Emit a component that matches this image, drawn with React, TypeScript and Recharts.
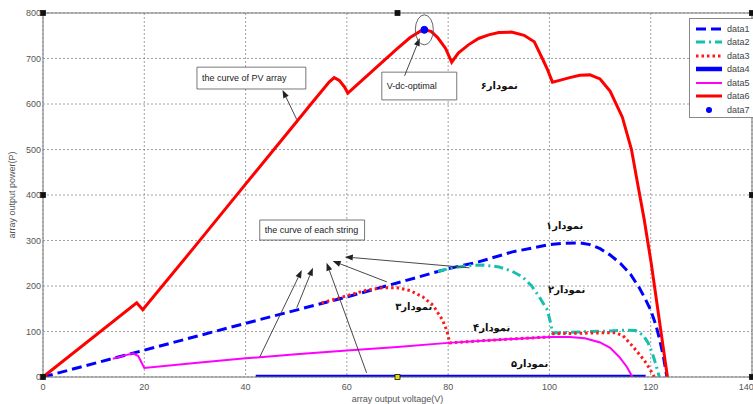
import React from 'react';
import {
  ComposedChart, Line, XAxis, YAxis, CartesianGrid, Legend,
  ReferenceLine, ReferenceArea, ReferenceDot,
} from 'recharts';

type Pt = [number, number];

const X_TICKS = [0, 20, 40, 60, 80, 100, 120, 140];
const Y_TICKS = [0, 100, 200, 300, 400, 500, 600, 700, 800];

// string 1 (blue dashed)
const data1: Pt[] = [
  [0, 0], [20, 59], [40, 118], [60, 176], [80, 238], [86, 253], [92.7, 275], [100, 291],
  [103, 294], [106, 295], [108, 291], [110, 282], [112, 268], [114, 250], [116, 226],
  [117.8, 195], [119, 170], [120, 147], [121, 115], [121.7, 85], [122.5, 45], [123.2, 0],
];
// string 2 (cyan dash-dot)
const data2: Pt[] = [
  [78, 232], [80, 238], [84, 245], [87, 246], [90, 242], [92.5, 233], [94.7, 220], [96.5, 200],
  [98, 176], [99.6, 147], [100.2, 120], [100.6, 97], [104, 98], [108, 100], [112, 101],
  [115, 103], [117, 102], [118.5, 92], [119.5, 75], [120.3, 53], [121, 28], [121.7, 0],
];
// string 3 (red dotted)
const data3: Pt[] = [
  [55, 163], [58, 172], [61, 182], [64, 191], [67, 196], [70, 196], [72.5, 190], [75, 176],
  [77, 158], [78.9, 125], [79.8, 100], [80.3, 75], [90, 82], [100, 88], [100.5, 95],
  [105, 96], [110, 97], [113, 97], [114.5, 91], [116.4, 68], [118.7, 37], [119.7, 20], [120.7, 0],
];
// thick blue at zero
const data4: Pt[] = [[42, 0], [119, 0]];
// magenta
const data5: Pt[] = [
  [13.8, 40], [16, 47], [17.8, 52], [18.8, 46], [19.4, 33], [20, 20], [30, 31], [40, 41],
  [50, 50], [60, 58], [70, 66], [80, 75], [90, 82], [100, 88], [104, 88], [107, 85],
  [110, 76], [112, 64], [113.8, 44], [115.3, 22], [116.4, 0],
];
// PV array (red solid)
const data6: Pt[] = [
  [0, 0], [18.5, 163], [19.7, 148], [30, 287], [40, 424], [50, 560], [53, 601], [55, 628],
  [56.5, 648], [57.5, 658], [58.5, 652], [59.5, 638], [60.2, 624], [62, 642], [66, 682],
  [70, 722], [72.5, 746], [74.5, 760], [75.5, 763], [76.7, 759], [78, 745], [79.5, 722],
  [80.7, 692], [82, 712], [84, 730], [86, 744], [88, 752], [90, 757], [92.5, 758], [95, 751],
  [97, 737], [98.6, 700], [99.6, 676], [100.6, 648], [102, 652], [104, 658], [106, 663],
  [108, 664], [110, 655], [112, 628], [114.4, 571], [116.2, 500], [117.5, 420],
  [118.7, 347], [120.1, 250], [121.7, 125], [123.3, 0],
];
// V-dc-optimal point
const data7: Pt[] = [[75.3, 763]];

const SERIES_NAMES = ['data1', 'data2', 'data3', 'data4', 'data5', 'data6', 'data7'];

const STRING_LABELS = ['نمودار۱', 'نمودار۲', 'نمودار۳', 'نمودار۴', 'نمودار۵', 'نمودار۶'];
const STRING_LABEL_POS: Pt[] = [[103, 334], [103.4, 193], [73.2, 154], [88.6, 108], [96.1, 29], [90.1, 640]];

// arrows: [tail, tip]
const STRING_ARROWS: [Pt, Pt][] = [
  [[42.8, 44], [51.1, 235]],
  [[50.1, 152], [53.3, 240]],
  [[63.9, 9], [56, 251]],
  [[67.9, 209], [57.2, 255]],
  [[84.2, 240], [59.6, 264]],
];
const PV_ARROW: [Pt, Pt] = [[50.1, 566], [47.3, 631]];
const OPT_ARROW: [Pt, Pt] = [[71.4, 662], [74.4, 745]];

const HANDLES: Pt[] = [[0, 800], [70, 800], [140, 800], [0, 400], [140, 400], [0, 0], [70, 0], [140, 0]];

const toPts = (arr: Pt[]) => arr.map(([x, y]) => ({ x, y }));

const styles: Record<string, { color: string; width: number; dash?: string }> = {
  data1: { color: '#0000ff', width: 3, dash: '10 5' },
  data2: { color: '#19bfae', width: 3, dash: '9 4 2 4' },
  data3: { color: '#ff1a1a', width: 3, dash: '2.5 3' },
  data4: { color: '#0000ff', width: 4.5 },
  data5: { color: '#ff00ff', width: 2 },
  data6: { color: '#ff0000', width: 3 },
  data7: { color: '#0000ff', width: 0 },
};

const Arrow = (p: any) => {
  const { x1, y1, x2, y2 } = p;
  const a = Math.atan2(y2 - y1, x2 - x1);
  const L = 8, W = 3;
  const bx = x2 - L * Math.cos(a), by = y2 - L * Math.sin(a);
  const pts = `${x2},${y2} ${bx + W * Math.sin(a)},${by - W * Math.cos(a)} ${bx - W * Math.sin(a)},${by + W * Math.cos(a)}`;
  return (
    <g>
      <line x1={x1} y1={y1} x2={bx} y2={by} stroke="#333" strokeWidth={0.9} />
      <polygon points={pts} fill="#222" />
    </g>
  );
};

const LegendBox = () => (
  <div style={{
    width: 70, height: 100, border: '1px solid #888', background: '#fff',
    padding: '3px 0 0 4px', boxSizing: 'border-box', fontFamily: 'Liberation Sans', fontSize: 9, color: '#444',
  }}>
    {SERIES_NAMES.map((n) => {
      const s = styles[n];
      return (
        <div key={n} style={{ display: 'flex', alignItems: 'center', height: 13.5 }}>
          <svg width={30} height={10}>
            {n === 'data7'
              ? <circle cx={15} cy={5} r={3} fill={s.color} />
              : <line x1={2} y1={5} x2={28} y2={5} stroke={s.color} strokeWidth={s.width} strokeDasharray={s.dash} />}
          </svg>
          <span style={{ marginLeft: 3 }}>{n}</span>
        </div>
      );
    })}
  </div>
);

const tickStyle = { fontSize: 9, fill: '#555', fontFamily: 'Liberation Sans' };

export default function App() {
  const series: [string, Pt[]][] = [
    ['data1', data1], ['data2', data2], ['data3', data3], ['data4', data4],
    ['data5', data5], ['data6', data6],
  ];
  return (
    <div style={{ position: 'absolute', left: 0, top: 0, width: 753, height: 404, background: '#fff', overflow: 'hidden' }}>
      <ComposedChart width={753} height={404} margin={{ top: 13, right: 1, bottom: 0, left: 0 }}>
        <CartesianGrid stroke="#8a8a8a" strokeDasharray="2 2" strokeWidth={0.8} />
        <XAxis
          dataKey="x" type="number" domain={[0, 140]} ticks={X_TICKS} height={27}
          allowDataOverflow tickLine={false} tickSize={0} tickMargin={7}
          stroke="#777" tick={tickStyle}
          label={{ value: 'array output voltage(V)', position: 'insideBottom', offset: 2, fontSize: 9, fill: '#555', fontFamily: 'Liberation Sans' }}
        />
        <YAxis
          type="number" domain={[0, 800]} ticks={Y_TICKS} width={43}
          allowDataOverflow tickLine={false} tickSize={0} tickMargin={2}
          stroke="#777" tick={tickStyle}
          label={{ value: 'array output power(P)', angle: -90, position: 'insideLeft', offset: 12, fontSize: 9, fill: '#555', fontFamily: 'Liberation Sans', style: { textAnchor: 'middle' } }}
        />
        <ReferenceLine y={800} stroke="#777" />
        <ReferenceLine x={140} stroke="#777" />

        {series.map(([n, d]) => (
          <Line
            key={n} data={toPts(d)} dataKey="y" name={n} type="linear"
            stroke={styles[n].color} strokeWidth={styles[n].width} strokeDasharray={styles[n].dash}
            dot={false} activeDot={false} isAnimationActive={false}
          />
        ))}
        <Line
          data={toPts(data7)} dataKey="y" name="data7" stroke="none"
          dot={{ r: 3.5, fill: '#0000ff', stroke: '#0000ff' }} activeDot={false} isAnimationActive={false}
        />

        <ReferenceArea x1={30.4} x2={51.9} y1={633} y2={681} fill="#fff" fillOpacity={1} stroke="#555" strokeWidth={0.8}
          label={{ value: 'the curve of PV array', position: 'insideLeft', offset: 5, fontSize: 9, fill: '#222', fontFamily: 'Liberation Sans' }} />
        <ReferenceArea x1={66.9} x2={81.7} y1={609} y2={670} fill="#fff" fillOpacity={1} stroke="#555" strokeWidth={0.8}
          label={{ value: 'V-dc-optimal', position: 'insideLeft', offset: 5, fontSize: 9, fill: '#222', fontFamily: 'Liberation Sans' }} />
        <ReferenceArea x1={42.8} x2={63.5} y1={301} y2={345} fill="#fff" fillOpacity={1} stroke="#555" strokeWidth={0.8}
          label={{ value: 'the curve of each string', position: 'insideLeft', offset: 5, fontSize: 9, fill: '#222', fontFamily: 'Liberation Sans' }} />

        {[...STRING_ARROWS, PV_ARROW, OPT_ARROW].map((seg, i) => (
          <ReferenceLine key={`a${i}`} segment={seg.map(([x, y]) => ({ x, y }))} shape={Arrow} />
        ))}

        <ReferenceDot x={data7[0][0]} y={data7[0][1]} shape={(p: any) => (
          <ellipse cx={p.cx} cy={p.cy} rx={9} ry={15} fill="none" stroke="#555" strokeWidth={0.9} />
        )} />

        {STRING_LABELS.map((t, i) => (
          <ReferenceDot key={t} x={STRING_LABEL_POS[i][0]} y={STRING_LABEL_POS[i][1]} shape={(p: any) => (
            <text x={p.cx} y={p.cy} textAnchor="middle" dominantBaseline="central" direction="rtl"
              fontSize={10} fontWeight="bold" fontFamily="DejaVu Sans" fill="#111">{t}</text>
          )} />
        ))}

        {HANDLES.map(([x, y], i) => (
          <ReferenceDot key={`h${i}`} x={x} y={y} ifOverflow="visible" shape={(p: any) => (
            <rect x={p.cx - 2.5} y={p.cy - 2.5} width={5} height={5}
              fill={x === 70 && y === 0 ? '#e0e000' : '#111'} stroke="#111" strokeWidth={0.8} />
          )} />
        ))}

        <Legend
          layout="vertical" align="center" verticalAlign="middle"
          wrapperStyle={{ left: 689, top: 18, width: 70, height: 100 }}
          content={() => <LegendBox />}
        />
      </ComposedChart>
    </div>
  );
}
